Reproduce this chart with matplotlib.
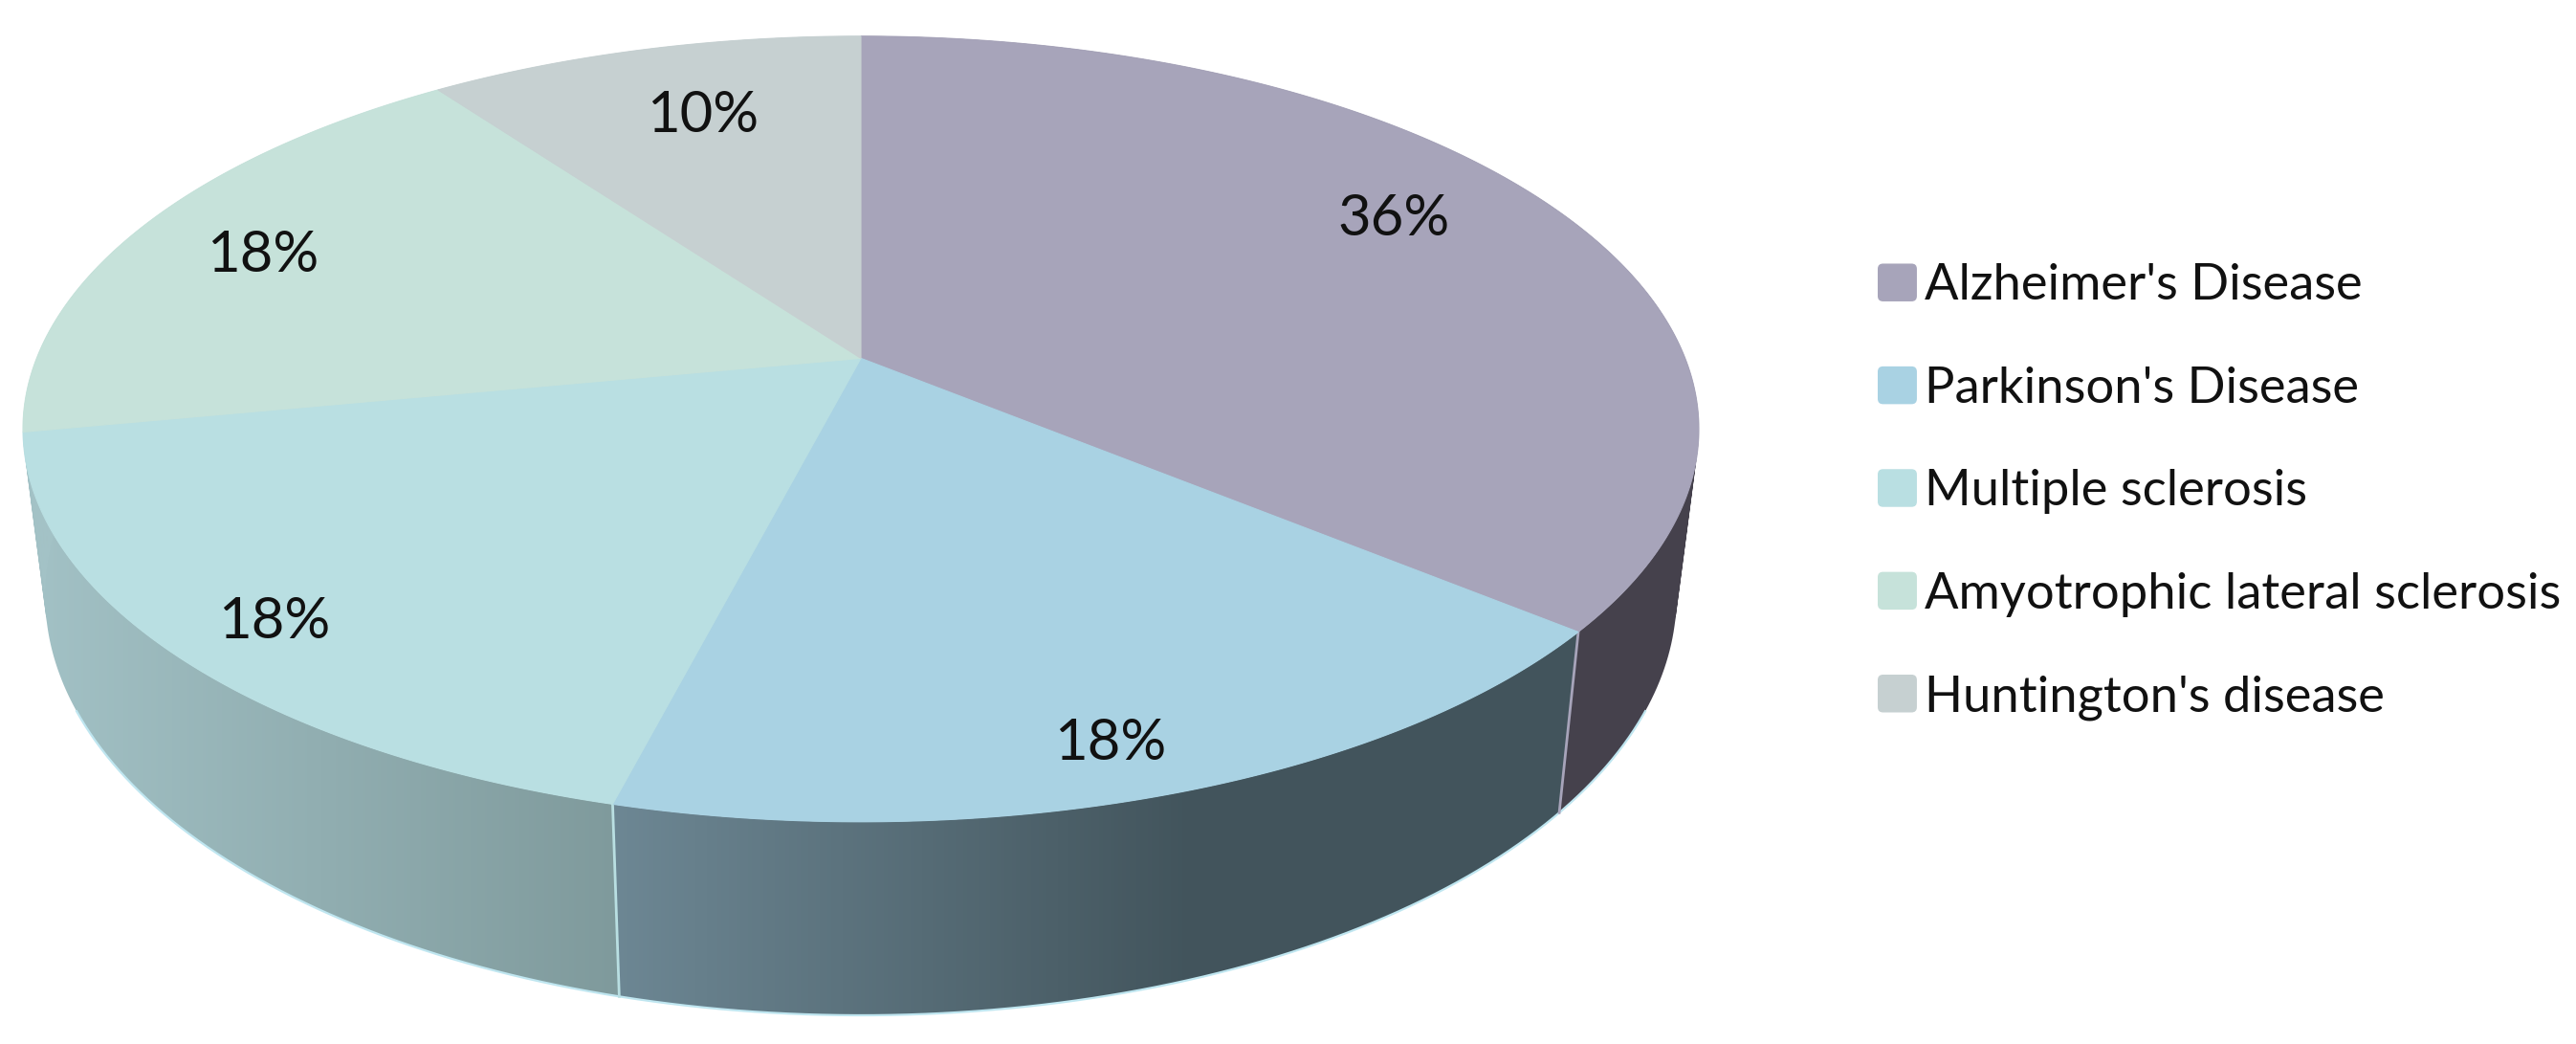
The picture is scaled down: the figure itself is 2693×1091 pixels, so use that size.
import numpy as np
import matplotlib
matplotlib.use("Agg")
import matplotlib.pyplot as plt
from matplotlib.patches import Polygon, Patch, FancyBboxPatch, PathPatch
from matplotlib.path import Path
from matplotlib.legend_handler import HandlerPatch
from matplotlib.colors import LinearSegmentedColormap

categories = ["Alzheimer's Disease", "Parkinson's Disease", "Multiple sclerosis",
              "Amyotrophic lateral sclerosis", "Huntington's disease"]
values = [36, 18, 18, 18, 10]
top_colors = ["#a7a4ba", "#a9d2e3", "#b9dfe2", "#c6e2da", "#c6d0d1"]
side_stops = [
    [(0.0, "#45414c"), (1.0, "#45414c")],
    [(0.0, "#6d8794"), (0.6, "#42545c"), (1.0, "#42545c")],
    [(0.0, "#a3c2c6"), (1.0, "#7f9a9c")],
    [(0.0, "#a3c2c6"), (1.0, "#a3c2c6")],
    [(0.0, "#a3c2c6"), (1.0, "#a3c2c6")],
]
label_xy = [(1457, 229), (1161, 777), (287, 650), (275, 267), (735, 121)]

CX = 900
TOP = dict(cy=448.3, rx=876, ry=410.5)
BOT = dict(cy=623, rx=852.7, ry=438)
K = 0.18


def rim(frac, e):
    """Perspective projection of a circle point (frac = share clockwise from 12 o'clock)."""
    th = 2 * np.pi * np.asarray(frac)
    X, Y = np.sin(th), np.cos(th)
    w = 1 + K * Y
    u = X * np.sqrt(1 - K ** 2) / w
    v = (Y + K) / w
    return np.column_stack([CX + e["rx"] * u, e["cy"] - e["ry"] * v])


def strip_path(a, b):
    """Compound path of equally oriented quads swept from rim a to rim b."""
    verts, codes = [], []
    for i in range(len(a) - 1):
        q = np.array([a[i], a[i + 1], b[i + 1], b[i]])
        x, y = q[:, 0], q[:, 1]
        area = np.dot(x, np.roll(y, -1)) - np.dot(y, np.roll(x, -1))
        if area < 0:
            q = q[::-1]
        verts.extend(list(q) + [q[0]])
        codes.extend([Path.MOVETO, Path.LINETO, Path.LINETO, Path.LINETO, Path.CLOSEPOLY])
    return Path(np.array(verts), codes)


W, H = 2693, 1091
fig = plt.figure(figsize=(W / 100, H / 100), dpi=100, facecolor="white")
ax = fig.add_axes([0, 0, 1, 1])
ax.set_xlim(0, W)
ax.set_ylim(H, 0)
ax.axis("off")

fonts = ["Lato", "DejaVu Sans"]
shares = np.array(values, dtype=float) / sum(values)
edges = np.concatenate([[0], np.cumsum(shares)])
apex = (CX, TOP["cy"] - TOP["ry"] * K)

# side wall
for i in range(len(values)):
    f = np.linspace(edges[i], edges[i + 1], 160)
    a, b = rim(f, TOP), rim(f, BOT)
    patch = PathPatch(strip_path(a, b), fc="none", ec="none", zorder=1)
    ax.add_patch(patch)
    cmap = LinearSegmentedColormap.from_list(f"s{i}", side_stops[i])
    xs = np.concatenate([a[:, 0], b[:, 0]])
    im = ax.imshow(np.linspace(0, 1, 256)[None, :], cmap=cmap, aspect="auto",
                   extent=[xs.min(), xs.max(), H, 0], zorder=1)
    im.set_clip_path(patch)
ax.set_xlim(0, W)
ax.set_ylim(H, 0)

# light outline of lower rim and seams
f = np.linspace(edges[0], edges[-1], 720)
b = rim(f, BOT)
front = (b[:, 1] > BOT["cy"] + 120)
pts = b[front][np.argsort(b[front][:, 0])]
ax.plot(pts[:, 0], pts[:, 1], color="#bfe6f0", lw=1.6, zorder=2)
for e, col in zip(edges[1:3], ["#a7a4ba", "#b9dfe2"]):
    p, q = rim(e, TOP), rim(e, BOT)
    ax.plot([p[0, 0], q[0, 0]], [p[0, 1], q[0, 1]], color=col, lw=2, zorder=2)

# top face
for i in range(len(values)):
    f = np.linspace(edges[i], edges[i + 1], 200)
    poly = np.vstack([[apex], rim(f, TOP)])
    ax.add_patch(Polygon(poly, closed=True, fc=top_colors[i], ec=top_colors[i], lw=0.8, zorder=3))

# value labels
for v, (x, y) in zip(values, label_xy):
    ax.text(x, y, f"{v}%", family=fonts, fontsize=43, color="#111111",
            ha="center", va="center", zorder=4)


class RoundHandler(HandlerPatch):
    def create_artists(self, legend, orig, xd, yd, width, height, fontsize, trans):
        p = FancyBboxPatch((-xd + 3, -yd + 3), width - 6, height - 6,
                           boxstyle="round,pad=3,rounding_size=4", fc=orig.get_facecolor(),
                           ec="none", transform=trans)
        return [p]


handles = [Patch(facecolor=c) for c in top_colors]
ax.legend(handles, categories, loc="center left", bbox_to_anchor=(1963 / W, 1 - 514 / H),
          frameon=False, prop={"family": fonts, "size": 37.8},
          handlelength=0.78, handleheight=0.78, handletextpad=0.16, labelspacing=1.15,
          borderpad=0, borderaxespad=0, labelcolor="#111111",
          handler_map={Patch: RoundHandler()})

fig.savefig("out.png", dpi=100, facecolor="white")
